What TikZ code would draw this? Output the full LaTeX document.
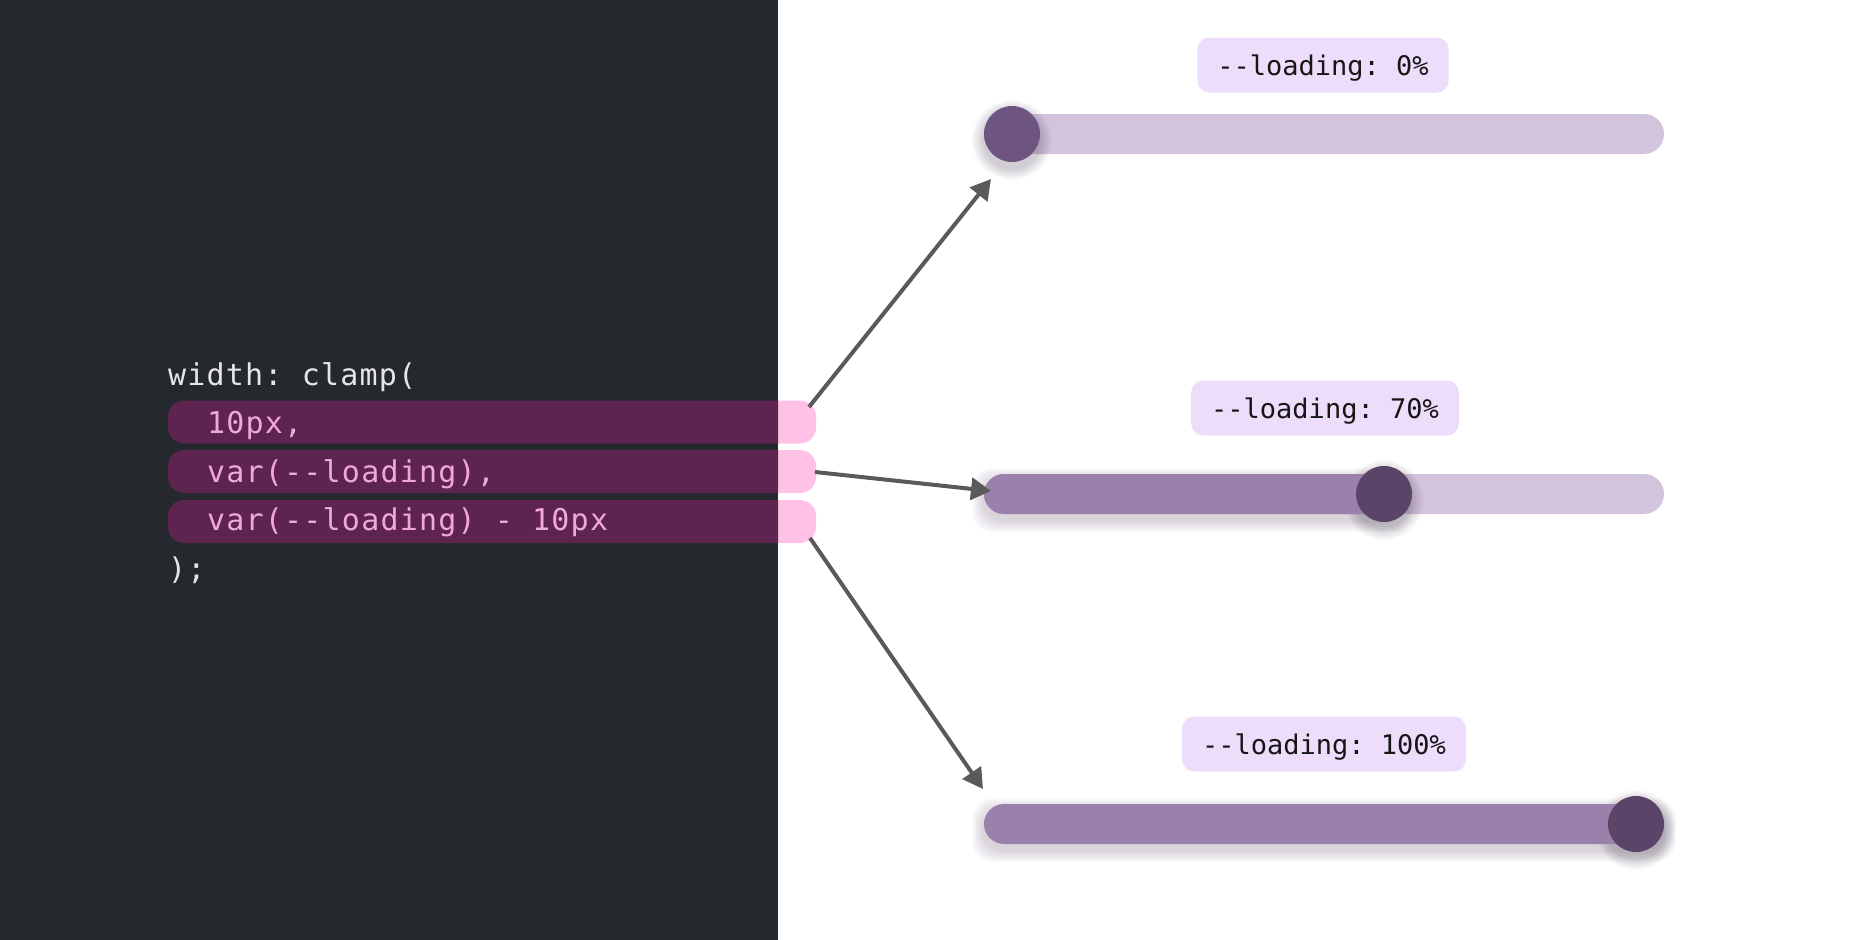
\documentclass[tikz,border=0pt]{standalone}
\usepackage{fontspec}
\usetikzlibrary{arrows.meta}
\newfontfamily\codefont[Ligatures=TeXOff,LetterSpace=4]{DejaVu Sans Mono}
\newfontfamily\lblfont[Ligatures=TeXOff]{DejaVu Sans Mono}
\definecolor{panel}{HTML}{25292D}
\definecolor{barD}{HTML}{5C244E}
\definecolor{barL}{HTML}{FFC2E6}
\definecolor{codew}{HTML}{E6E6E6}
\definecolor{codep}{HTML}{F2A7D9}
\definecolor{lblbg}{HTML}{EEDDFA}
\definecolor{lbltext}{HTML}{161616}
\definecolor{trackL}{HTML}{D3C4DD}
\definecolor{trackF}{HTML}{9A80AB}
\definecolor{knobA}{HTML}{6E5580}
\definecolor{knobB}{HTML}{5A4468}
\definecolor{shadowc}{HTML}{3A2A4A}
\definecolor{arrowc}{HTML}{5A5A5A}
\frenchspacing
\begin{document}
\frenchspacing
\begin{tikzpicture}[x=1pt,y=-1pt,
  codebar/.style={rectangle, rounded corners=16pt, minimum width=648pt, minimum height=43pt, inner sep=0pt},
  codetxt/.style={anchor=base west, inner sep=0pt, font=\codefont\fontsize{30}{36}\selectfont\frenchspacing},
  lbl/.style={fill=lblbg, rounded corners=12pt, inner xsep=20pt, inner ysep=0pt, minimum height=55pt, text height=20pt, text depth=0pt, text=lbltext, font=\lblfont\fontsize{27}{32}\selectfont\frenchspacing},
  track/.style={fill=trackL, rounded corners=20pt, minimum width=680pt, minimum height=40pt, inner sep=0pt},
  fillbar/.style={fill=trackF, rounded corners=20pt, minimum height=40pt, inner sep=0pt},
  knob/.style={circle, minimum size=56pt, inner sep=0pt},
  conn/.style={draw=arrowc, line width=4pt, -{Triangle[length=20pt,width=22pt]}}
]
% canvas
\fill[white] (0,0) rectangle (1872,940);
\useasboundingbox (0,0) rectangle (1872,940);
\fill[panel] (0,0) rectangle (778,940);

% code highlight bars: pink part over white, dark part over panel
\begin{scope}
  \clip (778,0) rectangle (1872,940);
  \node[codebar, fill=barL] (b1) at (492,422) {};
  \node[codebar, fill=barL] (b2) at (492,471.5) {};
  \node[codebar, fill=barL] (b3) at (492,521.5) {};
\end{scope}
\begin{scope}
  \clip (0,0) rectangle (778,940);
  \node[codebar, fill=barD] (b1d) at (492,422) {};
  \node[codebar, fill=barD] (b2d) at (492,471.5) {};
  \node[codebar, fill=barD] (b3d) at (492,521.5) {};
\end{scope}

% code text
\node[codetxt, text=codew] (c0) at (168,385) {width: clamp(};
\node[codetxt, text=codep] (c1) at (207,433) {10px,};
\node[codetxt, text=codep] (c2) at (207,482) {var(-{}-loading),};
\node[codetxt, text=codep] (c3) at (207,530) {var(-{}-loading) - 10px};
\node[codetxt, text=codew] (c4) at (168,579) {);};

% labels
\node[lbl] (l1) at (1323,65) {-{}-loading: 0\%};
\node[lbl] (l2) at (1325,408) {-{}-loading: 70\%};
\node[lbl] (l3) at (1324,744) {-{}-loading: 100\%};

% track 1 (0%)
\node[track] (t1) at (1324,134) {};
\foreach \i in {1,...,12}
  \fill[shadowc, opacity=0.018] (1012,140) circle[radius={28pt+\i pt}];
\node[knob, fill=knobA] (k1) at (1012,134) {};

% track 2 (70%)
\node[track] (t2) at (1324,494) {};
\foreach \i in {1,...,12}{
  \fill[shadowc, opacity=0.016, rounded corners=20pt] (984-\i,480-\i) rectangle (1400+\i,520+\i);
  \fill[shadowc, opacity=0.018] (1384,500) circle[radius={28pt+\i pt}];
}
\node[fillbar, minimum width=416pt] (f2) at (1192,494) {};
\node[knob, fill=knobB] (k2) at (1384,494) {};

% track 3 (100%)
\foreach \i in {1,...,12}{
  \fill[shadowc, opacity=0.016, rounded corners=20pt] (984-\i,810-\i) rectangle (1664+\i,850+\i);
  \fill[shadowc, opacity=0.018] (1636,830) circle[radius={28pt+\i pt}];
}
\node[track, fill=trackF] (t3) at (1324,824) {};
\node[knob, fill=knobB] (k3) at (1636,824) {};

% connectors
\coordinate (a1s) at (809,407);
\coordinate (a1e) at (991,179);
\coordinate (a2s) at (815,472);
\coordinate (a2e) at (991,491);
\coordinate (a3s) at (810,538);
\coordinate (a3e) at (983,789);
\draw[conn] (a1s) -- (a1e);
\draw[conn] (a2s) -- (a2e);
\draw[conn] (a3s) -- (a3e);
\end{tikzpicture}
\end{document}
